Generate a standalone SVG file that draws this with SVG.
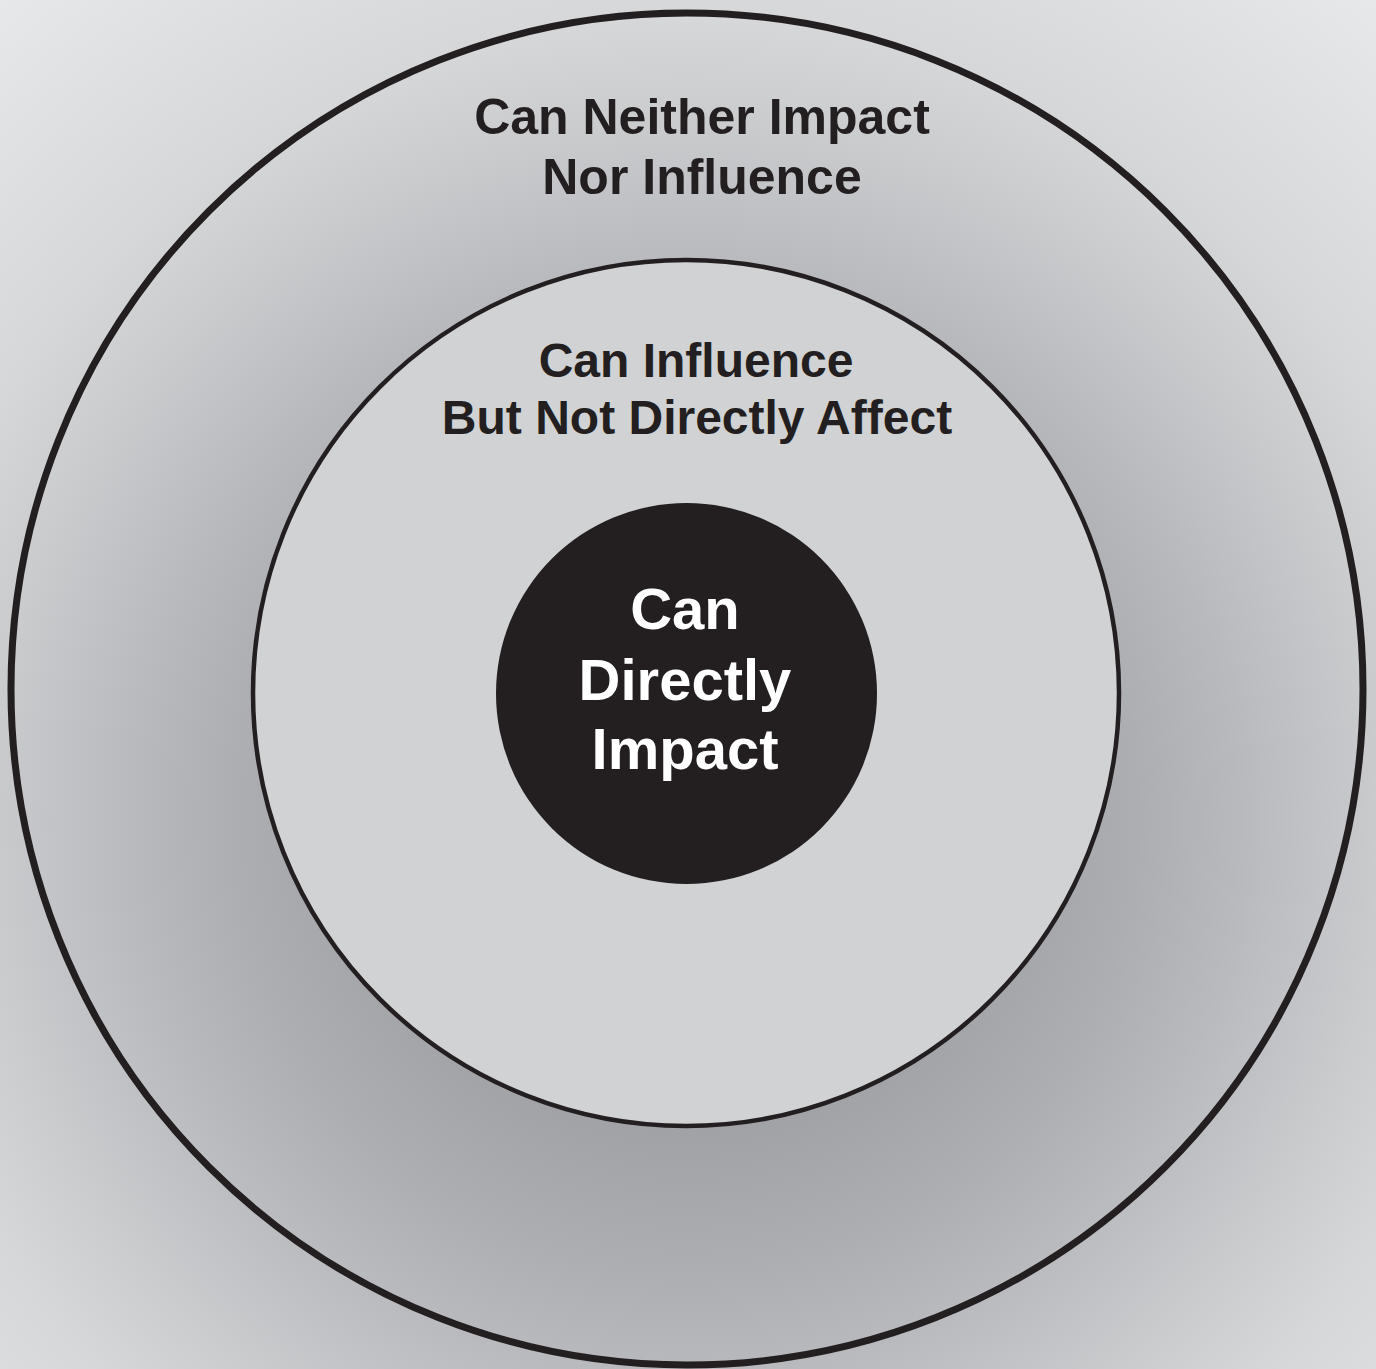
<svg xmlns="http://www.w3.org/2000/svg" width="1376" height="1369" viewBox="0 0 1376 1369">
<defs>
<radialGradient id="bg" gradientUnits="userSpaceOnUse" cx="687" cy="820" r="1100">
<stop offset="0.27" stop-color="#a0a1a5"/>
<stop offset="0.41" stop-color="#adaeb2"/>
<stop offset="0.5" stop-color="#b8b9bd"/>
<stop offset="0.64" stop-color="#cbccce"/>
<stop offset="0.73" stop-color="#d6d7d9"/>
<stop offset="0.97" stop-color="#e7e8e9"/>
</radialGradient>
<style>
.lbl{font-family:"Liberation Sans",Arial,Helvetica,sans-serif;font-weight:bold;text-anchor:middle;fill:#231f20}
.w{fill:#ffffff}
</style>
</defs>
<rect x="0" y="0" width="1376" height="1369" fill="url(#bg)"/>
<g id="outer">
<circle cx="687" cy="689" r="676" fill="none" stroke="#231f20" stroke-width="7"/>
<text class="lbl" font-size="50" x="702" y="134">Can Neither Impact</text>
<text class="lbl" font-size="50" x="702" y="194">Nor Influence</text>
</g>
<g id="middle">
<circle cx="686" cy="693" r="433" fill="#d1d2d4" stroke="#231f20" stroke-width="4.5"/>
<text class="lbl" font-size="48" x="696" y="377">Can Influence</text>
<text class="lbl" font-size="48" x="697" y="434">But Not Directly Affect</text>
</g>
<g id="inner">
<circle cx="686.5" cy="693.5" r="190.5" fill="#231f20"/>
<text class="lbl w" font-size="58" x="685" y="629">Can</text>
<text class="lbl w" font-size="58" x="685" y="700">Directly</text>
<text class="lbl w" font-size="58" x="685" y="769">Impact</text>
</g>
<g id="connectors"/>
</svg>
